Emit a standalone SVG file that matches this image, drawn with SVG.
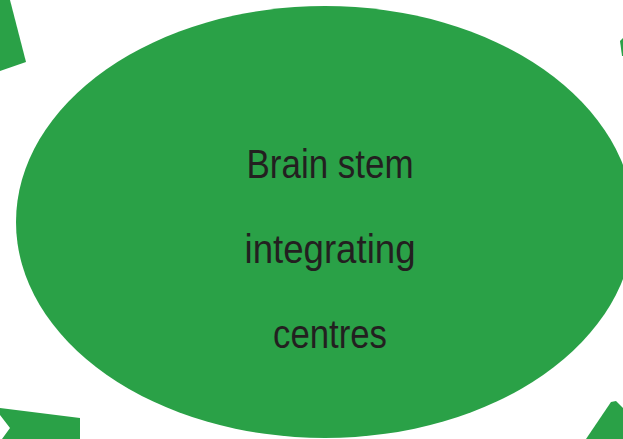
<svg xmlns="http://www.w3.org/2000/svg" width="623" height="439" viewBox="0 0 623 439">
  <style>
    .fill { fill: #2aa147; }
    .label { font-family: "Liberation Sans", Arial, sans-serif; font-size: 40px; fill: #231f20; text-anchor: middle; }
  </style>
  <rect width="623" height="439" fill="#ffffff"/>

  <!-- arrow fragments running off the edges -->
  <g id="connectors" class="fill">
    <polygon points="0,0 10,0 26,62 0,71"/>
    <polygon points="623,38 620,41 622,56 623,56"/>
    <polygon points="0,408 80,418 80,439 2,439 10,428 0,415"/>
    <polygon points="586,439 611,402 616,401 623,408 623,439"/>
  </g>

  <g id="brain-stem">
    <ellipse class="fill" cx="325" cy="222" rx="309" ry="216"/>
    <text class="label" x="330" y="178" textLength="167" lengthAdjust="spacingAndGlyphs">Brain stem</text>
    <text class="label" x="330" y="263" textLength="171" lengthAdjust="spacingAndGlyphs">integrating</text>
    <text class="label" x="330" y="348" textLength="114" lengthAdjust="spacingAndGlyphs">centres</text>
  </g>
</svg>
